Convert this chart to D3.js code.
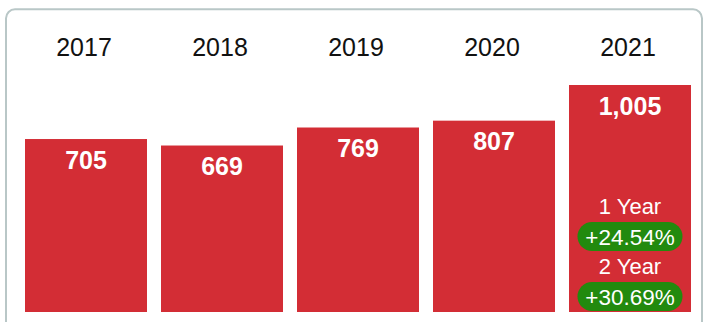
<!DOCTYPE html>
<html>
<head>
<meta charset="utf-8">
<script src="https://cdn.jsdelivr.net/npm/d3@7/dist/d3.min.js"></script>
<style>
  html, body { margin: 0; padding: 0; background: #fff; }
  svg { display: block; font-family: "Liberation Sans", Arial, sans-serif; }
</style>
</head>
<body>
<svg id="chart" width="706" height="322"></svg>
<script>
// Yearly totals
const years = ["2017", "2018", "2019", "2020", "2021"];
const totals = [705, 669, 769, 807, 1005];
// Growth of the latest year, compared 1 and 2 years back
const changeLabels = ["1 Year", "2 Year"];
const changeLags = [1, 2];

const W = 706, H = 322;
const barBottom = 312;
const barTop = 85;
const baseStub = 46; // minimum visible bar height below the zero line

const svg = d3.select("#chart");

// Card frame
svg.append("rect")
  .attr("x", 6).attr("y", 9.3)
  .attr("width", 696).attr("height", 340)
  .attr("rx", 9).attr("ry", 9)
  .attr("fill", "#fff")
  .attr("stroke", "#b9c7c7")
  .attr("stroke-width", 2);

const x = d3.scaleBand()
  .domain(years)
  .range([25, 691])
  .paddingInner(14 / 136)
  .paddingOuter(0);

const y = d3.scaleLinear()
  .domain([0, d3.max(totals)])
  .range([barBottom - baseStub, barTop]);

const data = years.map((yr, i) => ({ year: yr, value: totals[i] }));

// Year headings
svg.append("g").selectAll("text")
  .data(data)
  .join("text")
  .attr("x", d => x(d.year) + x.bandwidth() / 2 - 2)
  .attr("y", 55.5)
  .attr("text-anchor", "middle")
  .attr("font-size", 25)
  .attr("fill", "#111")
  .text(d => d.year);

// Bars
svg.append("g").selectAll("rect")
  .data(data)
  .join("rect")
  .attr("x", d => x(d.year))
  .attr("y", d => y(d.value))
  .attr("width", x.bandwidth())
  .attr("height", d => barBottom - y(d.value))
  .attr("fill", "#d32d35");

// Value labels inside bars
const fmt = d3.format(",");
svg.append("g").selectAll("text")
  .data(data)
  .join("text")
  .attr("x", d => x(d.year) + x.bandwidth() / 2)
  .attr("y", d => y(d.value) + 29.5)
  .attr("text-anchor", "middle")
  .attr("font-size", 25)
  .attr("font-weight", "bold")
  .attr("fill", "#fff")
  .text(d => fmt(d.value));

// Growth badges in the latest bar
const last = data[data.length - 1];
const cx = x(last.year) + x.bandwidth() / 2;
const pct = d3.format("+.2f");
const changes = changeLabels.map((lab, i) => {
  const prev = totals[totals.length - 1 - changeLags[i]];
  return { label: lab, text: pct((last.value / prev - 1) * 100) + "%" };
});

const badge = svg.append("g").selectAll("g")
  .data(changes)
  .join("g")
  .attr("transform", (d, i) => `translate(${cx},${214 + i * 60})`);

badge.append("text")
  .attr("x", 0).attr("y", 0)
  .attr("text-anchor", "middle")
  .attr("font-size", 22)
  .attr("fill", "#fff")
  .text(d => d.label);

badge.append("rect")
  .attr("x", -52.5).attr("y", 8)
  .attr("width", 105).attr("height", 29)
  .attr("rx", 14.5).attr("ry", 14.5)
  .attr("fill", "#228a0e");

badge.append("text")
  .attr("x", 0).attr("y", 31)
  .attr("text-anchor", "middle")
  .attr("font-size", 22.5)
  .attr("fill", "#fff")
  .text(d => d.text);
</script>
</body>
</html>
